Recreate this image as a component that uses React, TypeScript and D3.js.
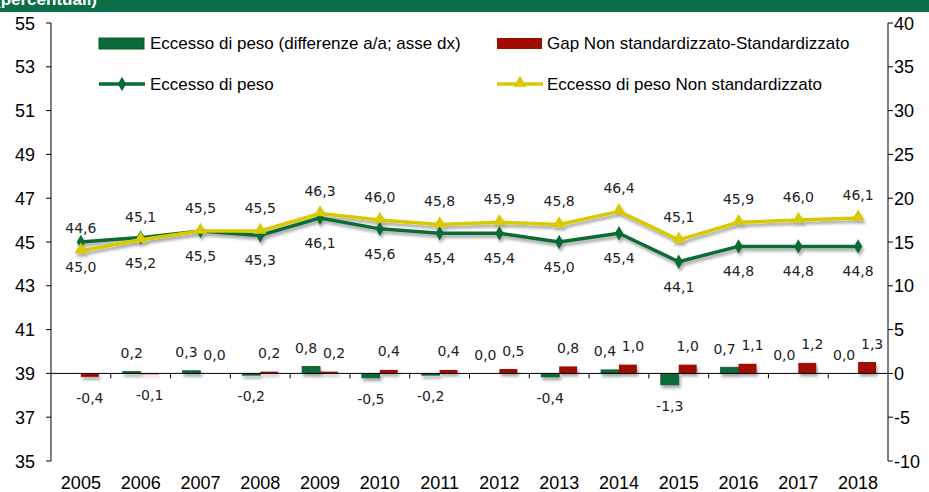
import React from "react";
import * as d3 from "d3";

const years = ["2005","2006","2007","2008","2009","2010","2011","2012","2013","2014","2015","2016","2017","2018"];
const eccessoPeso = [45.0, 45.2, 45.5, 45.3, 46.1, 45.6, 45.4, 45.4, 45.0, 45.4, 44.1, 44.8, 44.8, 44.8];
const eccessoNonStd = [44.6, 45.1, 45.5, 45.5, 46.3, 46.0, 45.8, 45.9, 45.8, 46.4, 45.1, 45.9, 46.0, 46.1];
const diffAA: (number | null)[] = [null, 0.2, 0.3, -0.2, 0.8, -0.5, -0.2, 0.0, -0.4, 0.4, -1.3, 0.7, 0.0, 0.0];
const gapNonStd = [-0.4, -0.1, 0.0, 0.2, 0.2, 0.4, 0.4, 0.5, 0.8, 1.0, 1.0, 1.1, 1.2, 1.3];
const leftTicks = [35, 37, 39, 41, 43, 45, 47, 49, 51, 53, 55];
const rightTicks = [-10, -5, 0, 5, 10, 15, 20, 25, 30, 35, 40];
const legendLabels = [
  "Eccesso di peso (differenze a/a; asse dx)",
  "Gap Non standardizzato-Standardizzato",
  "Eccesso di peso",
  "Eccesso di peso Non standardizzato",
];
const headerText = "(percentuali)";

const W = 929, H = 492;
const X0 = 51, X1 = 888, Y0 = 23, Y1 = 461;
const GREEN_BAR = "#0b6a3a";
const GREEN_BAR_STROKE = "#0a5a20";
const RED_BAR = "#a10c02";
const GREEN_LINE = "#0a6b36";
const YELLOW = "#d8c900";
const AXIS_FONT = "'Liberation Sans', Arial, sans-serif";
const LABEL_FONT = "'DejaVu Sans', Verdana, sans-serif";

const fmt = (v: number) => v.toFixed(1).replace(".", ",");

export default function App() {
  const x = d3.scaleBand<string>().domain(years).range([X0, X1]).padding(0);
  const yL = d3.scaleLinear().domain([35, 55]).range([Y1, Y0]);
  const yR = d3.scaleLinear().domain([-10, 40]).range([Y1, Y0]);
  const bw = x.bandwidth();
  const barW = bw * 0.3;
  const zeroY = yR(0);
  const cx = (i: number) => (x(years[i]) as number) + bw / 2;

  const lineL = d3.line<number>().x((_, i) => cx(i)).y((d) => yL(d));

  const diamond = d3.symbol().type(d3.symbolDiamond).size(60)() as string;
  const triangle = d3.symbol().type(d3.symbolTriangle).size(70)() as string;

  // bar label positions with simple overlap avoidance
  const barLabels: { x: number; y: number; t: string }[] = [];
  years.forEach((_, i) => {
    const g = diffAA[i];
    const r = gapNonStd[i];
    let gx = cx(i) - barW / 2;
    let rx = cx(i) + barW / 2;
    const gy = g == null ? 0 : g >= 0 ? yR(g) - 13.5 : yR(g) + 26;
    const ry = r >= 0 ? yR(r) - 13.5 : yR(r) + 26;
    if (g != null && g >= 0 && r >= 0 && rx - gx < 28) {
      const d = (28 - (rx - gx)) / 2;
      gx -= d;
      rx += d;
    }
    if (g != null) barLabels.push({ x: gx, y: gy, t: fmt(g) });
    barLabels.push({ x: rx, y: ry, t: fmt(r) });
  });

  return (
    <svg
      width={W}
      height={H}
      style={{ position: "fixed", left: 0, top: 0, background: "#fff" }}
      xmlns="http://www.w3.org/2000/svg"
    >
      <defs>
        <filter id="sh" x="-20%" y="-50%" width="140%" height="250%">
          <feDropShadow dx="1.5" dy="3" stdDeviation="1.8" floodColor="#000" floodOpacity="0.35" />
        </filter>
      </defs>
      <rect x={0} y={0} width={W} height={H} fill="#fff" />
      {/* header band */}
      <rect x={0} y={0} width={W} height={12} fill="#0a6e46" />
      <text x={-5} y={5} fill="#fff" fontFamily={AXIS_FONT} fontWeight="bold" fontSize={17}>
        {headerText}
      </text>

      {/* left axis */}
      <line x1={X0} x2={X0} y1={Y0} y2={Y1} stroke="#000" strokeWidth={1} />
      {leftTicks.map((t) => (
        <g key={"l" + t}>
          <line x1={X0 - 5} x2={X0} y1={yL(t)} y2={yL(t)} stroke="#000" />
          <text x={35} y={yL(t) + 6.5} textAnchor="end" fontFamily={AXIS_FONT} fontSize={18} fill="#000">
            {t}
          </text>
        </g>
      ))}
      {/* right axis */}
      <line x1={X1} x2={X1} y1={Y0} y2={Y1} stroke="#000" strokeWidth={1} />
      {rightTicks.map((t) => (
        <g key={"r" + t}>
          <line x1={X1} x2={X1 + 5} y1={yR(t)} y2={yR(t)} stroke="#000" />
          <text x={894} y={yR(t) + 6.5} textAnchor="start" fontFamily={AXIS_FONT} fontSize={18} fill="#000">
            {t}
          </text>
        </g>
      ))}

      {/* bars */}
      <g filter="url(#sh)">
        {years.map((yr, i) => {
          const g = diffAA[i];
          const r = gapNonStd[i];
          const bx = x(yr) as number;
          const s = bx + bw / 2 - barW;
          return (
            <g key={"b" + yr}>
              {g != null && (
                <rect
                  x={s}
                  y={Math.min(yR(g), zeroY)}
                  width={barW}
                  height={Math.abs(yR(g) - zeroY)}
                  fill={GREEN_BAR}
                  stroke={GREEN_BAR_STROKE}
                  strokeWidth={0.8}
                />
              )}
              <rect
                x={s + barW}
                y={Math.min(yR(r), zeroY)}
                width={barW}
                height={Math.abs(yR(r) - zeroY)}
                fill={RED_BAR}
              />
            </g>
          );
        })}
      </g>

      {/* category axis at right-axis zero */}
      <line x1={X0} x2={X1} y1={zeroY} y2={zeroY} stroke="#000" strokeWidth={1} />
      {years.map((yr, i) =>
        i > 0 ? (
          <line key={"xt" + yr} x1={x(yr) as number} x2={x(yr) as number} y1={zeroY} y2={zeroY + 5} stroke="#000" />
        ) : null
      )}
      {years.map((yr, i) => (
        <text key={"xl" + yr} x={cx(i)} y={489} textAnchor="middle" fontFamily={AXIS_FONT} fontSize={18} fill="#000">
          {yr}
        </text>
      ))}

      {/* lines */}
      <g filter="url(#sh)">
        <path d={lineL(eccessoPeso) as string} fill="none" stroke={GREEN_LINE} strokeWidth={3.5} strokeLinejoin="round" />
        {eccessoPeso.map((v, i) => (
          <path key={"dm" + i} d={diamond} transform={`translate(${cx(i)},${yL(v)})`} fill={GREEN_LINE} />
        ))}
        <path d={lineL(eccessoNonStd) as string} fill="none" stroke={YELLOW} strokeWidth={3.5} strokeLinejoin="round" />
        {eccessoNonStd.map((v, i) => (
          <path key={"tr" + i} d={triangle} transform={`translate(${cx(i)},${yL(v) - 1})`} fill={YELLOW} />
        ))}
      </g>

      {/* line labels */}
      {eccessoNonStd.map((v, i) => (
        <text key={"yl" + i} x={cx(i)} y={yL(v) - 18} textAnchor="middle" fontFamily={LABEL_FONT} fontSize={14} fill="#222">
          {fmt(v)}
        </text>
      ))}
      {eccessoPeso.map((v, i) => (
        <text key={"gl" + i} x={cx(i)} y={yL(v) + 30} textAnchor="middle" fontFamily={LABEL_FONT} fontSize={14} fill="#222">
          {fmt(v)}
        </text>
      ))}

      {/* bar labels */}
      {barLabels.map((l, i) => (
        <text key={"bl" + i} x={l.x} y={l.y} textAnchor="middle" fontFamily={LABEL_FONT} fontSize={14} fill="#222">
          {l.t}
        </text>
      ))}

      {/* legend */}
      <g fontFamily={AXIS_FONT} fontSize={17} fill="#000">
        <rect x={99} y={38} width={45} height={11} fill={GREEN_BAR} stroke={GREEN_BAR_STROKE} strokeWidth={1} />
        <text x={150} y={49}>{legendLabels[0]}</text>
        <rect x={497} y={38} width={45} height={11} fill={RED_BAR} />
        <text x={547} y={49}>{legendLabels[1]}</text>
        <line x1={99} x2={145} y1={84} y2={84} stroke={GREEN_LINE} strokeWidth={3.5} />
        <path d={diamond} transform="translate(122,84)" fill={GREEN_LINE} />
        <text x={150} y={90}>{legendLabels[2]}</text>
        <line x1={497} x2={543} y1={84} y2={84} stroke={YELLOW} strokeWidth={3.5} />
        <path d={triangle} transform="translate(520,83)" fill={YELLOW} />
        <text x={547} y={90}>{legendLabels[3]}</text>
      </g>
    </svg>
  );
}
